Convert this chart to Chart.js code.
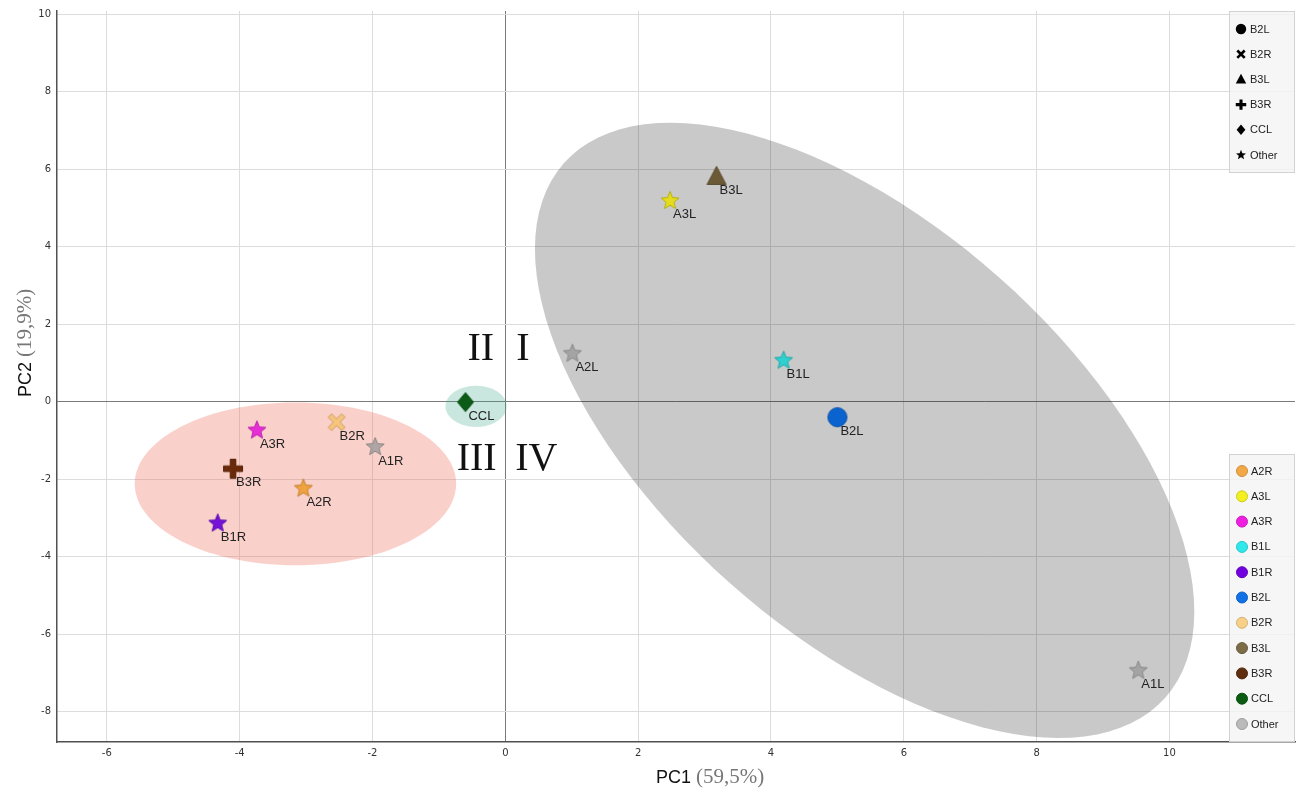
<!DOCTYPE html>
<html>
<head>
<meta charset="utf-8">
<script src="https://cdn.jsdelivr.net/npm/chart.js@4/dist/chart.umd.min.js"></script>
<style>
  html, body { margin: 0; padding: 0; background: #fff; overflow: hidden; }
  canvas { display: block; }
</style>
</head>
<body>
<canvas id="pca" width="1306" height="791"></canvas>
<script>
// samples
const sampleNames = ['A1L', 'A2L', 'A3L', 'B1L', 'B2L', 'B3L', 'CCL', 'A1R', 'A2R', 'A3R', 'B1R', 'B2R', 'B3R']
const pc1 = [9.53, 1.01, 2.48, 4.19, 5.00, 3.18, -0.60, -1.96, -3.04, -3.74, -4.33, -2.54, -4.10]
const pc2 = [-6.94, 1.24, 5.18, 1.06, -0.40, 5.80, -0.01, -1.17, -2.24, -0.74, -3.14, -0.53, -1.73]
const sampleGroup = ['Other', 'Other', 'A3L', 'B1L', 'B2L', 'B3L', 'CCL', 'Other', 'A2R', 'A3R', 'B1R', 'B2R', 'B3R']

// colour legend
const groupNames = ['A2R', 'A3L', 'A3R', 'B1L', 'B1R', 'B2L', 'B2R', 'B3L', 'B3R', 'CCL', 'Other']
const groupColors = ['#f0a23e', '#e4dc1c', '#e82ed6', '#2ed0d0', '#7412d8', '#0b63d0', '#f7c47c', '#6b5a35', '#6a2a0a', '#0b5a16', '#9a9a9a']
const legendColors = ['#f2a846', '#f2f01e', '#f01ee0', '#2ee8ea', '#7000e0', '#1072e6', '#f8d088', '#7c6c48', '#5e2e0e', '#0a5a12', '#bababa']

// shape legend
const shapeNames = ['B2L', 'B2R', 'B3L', 'B3R', 'CCL', 'Other']
const shapeKinds = ['circle', 'cross', 'triangle', 'plus', 'diamond', 'star']

// ticks
const xTicks = [-6, -4, -2, 0, 2, 4, 6, 8, 10]
const yTicks = [-8, -6, -4, -2, 0, 2, 4, 6, 8, 10]

// confidence ellipses: centre, two half-axis vectors (data units)
const ellipseGray = [5.41, -0.74, 4.53, -6.89, -2.03, -3.94]
const ellipsePink = [-3.16, -2.12, 2.42, 0, 0, 2.10]
const ellipseTeal = [-0.44, -0.12, 0.46, 0, 0, 0.53]

// quadrant numerals
const quadText = ['II', 'I', 'III', 'IV']
const quadX = [-0.17, 0.165, -0.13, 0.15]
const quadY = [1.08, 1.08, -1.75, -1.75]

function darker(hex, f) {
  const n = parseInt(hex.slice(1), 16)
  const r = Math.round(((n >> 16) & 255) * f), g = Math.round(((n >> 8) & 255) * f), b = Math.round((n & 255) * f)
  return 'rgb(' + r + ',' + g + ',' + b + ')'
}

function shapePath(g, kind, k) {
  g.beginPath()
  if (kind === 'circle') {
    g.arc(0, 0, 9.5 * k, 0, Math.PI * 2)
  } else if (kind === 'triangle') {
    g.moveTo(0, -10.5 * k); g.lineTo(9.5 * k, 7.5 * k); g.lineTo(-9.5 * k, 7.5 * k)
  } else if (kind === 'diamond') {
    g.moveTo(0, -9.5 * k); g.lineTo(8 * k, 0); g.lineTo(0, 9.5 * k); g.lineTo(-8 * k, 0)
  } else if (kind === 'star') {
    for (let i = 0; i < 10; i++) {
      const r = (i % 2 ? 4.2 : 9.5) * k
      const a = -Math.PI / 2 + i * Math.PI / 5
      g.lineTo(Math.cos(a) * r, Math.sin(a) * r)
    }
  } else {
    const L = 9.5 * k, t = (kind === 'plus' ? 2.8 : 2.4) * k
    const pts = [[-t, -L], [t, -L], [t, -t], [L, -t], [L, t], [t, t], [t, L], [-t, L], [-t, t], [-L, t], [-L, -t], [-t, -t]]
    const rot = kind === 'cross' ? Math.PI / 4 : 0
    pts.forEach(p => {
      const x = p[0] * Math.cos(rot) - p[1] * Math.sin(rot)
      const y = p[0] * Math.sin(rot) + p[1] * Math.cos(rot)
      g.lineTo(x, y)
    })
  }
  g.closePath()
}

function makeMarker(kind, fill, alpha) {
  const c = document.createElement('canvas')
  c.width = 26; c.height = 26
  const g = c.getContext('2d')
  g.translate(13, 13)
  g.globalAlpha = alpha
  shapePath(g, kind, 1)
  g.fillStyle = fill
  g.fill()
  g.lineWidth = 1
  g.strokeStyle = darker(fill, 0.8)
  g.stroke()
  return c
}

const pointStyles = sampleNames.map((n, i) => {
  const grp = sampleGroup[i]
  const si = shapeNames.indexOf(grp)
  const kind = si >= 0 ? shapeKinds[si] : 'star'
  const col = groupColors[groupNames.indexOf(grp)]
  return makeMarker(kind, col, grp === 'Other' ? 0.78 : 1)
})

function drawEllipse(chart, e, fill) {
  const xs = chart.scales.x, ys = chart.scales.y, g = chart.ctx
  g.save()
  g.beginPath()
  for (let i = 0; i <= 120; i++) {
    const t = i / 120 * Math.PI * 2
    const vx = e[0] + e[2] * Math.cos(t) + e[4] * Math.sin(t)
    const vy = e[1] + e[3] * Math.cos(t) + e[5] * Math.sin(t)
    g.lineTo(xs.getPixelForValue(vx), ys.getPixelForValue(vy))
  }
  g.closePath()
  g.fillStyle = fill
  g.fill()
  g.restore()
}

const extras = {
  id: 'extras',
  beforeDatasetsDraw(chart) {
    drawEllipse(chart, ellipseGray, 'rgba(0,0,0,0.21)')
    drawEllipse(chart, ellipsePink, 'rgba(240,110,90,0.32)')
    drawEllipse(chart, ellipseTeal, 'rgba(60,170,140,0.28)')
  },
  afterDatasetsDraw(chart) {
    const g = chart.ctx
    const meta = chart.getDatasetMeta(0)
    g.save()
    g.font = '13px "Liberation Sans"'
    g.fillStyle = '#222'
    g.textBaseline = 'middle'
    g.textAlign = 'left'
    meta.data.forEach((el, i) => g.fillText(sampleNames[i], el.x + 3, el.y + 14))
    // numerals
    const xs = chart.scales.x, ys = chart.scales.y
    g.font = '40px "Liberation Serif"'
    g.fillStyle = '#111'
    g.textBaseline = 'alphabetic'
    quadText.forEach((t, i) => {
      g.textAlign = i % 2 === 0 ? 'right' : 'left'
      g.fillText(t, xs.getPixelForValue(quadX[i]), ys.getPixelForValue(quadY[i]))
    })
    g.restore()
  },
  afterDraw(chart) {
    const g = chart.ctx
    const a = chart.chartArea
    g.save()
    // shape legend
    const bx = a.right - 66, bw = 66
    g.fillStyle = 'rgba(244,244,244,0.82)'
    g.strokeStyle = '#d2d2d2'
    g.lineWidth = 1
    g.fillRect(bx, a.top, bw, 162)
    g.strokeRect(bx + 0.5, a.top + 0.5, bw - 1, 161)
    g.font = '11px "Liberation Sans"'
    g.textBaseline = 'middle'
    g.textAlign = 'left'
    shapeNames.forEach((n, i) => {
      const y = a.top + 18 + i * 25.2
      g.save()
      g.translate(bx + 12, y)
      shapePath(g, shapeKinds[i], 0.55)
      g.fillStyle = '#000'
      g.fill()
      g.restore()
      g.fillStyle = '#222'
      g.fillText(n, bx + 21, y + 0.5)
    })
    // colour legend
    const by = a.bottom - 288
    g.fillStyle = 'rgba(244,244,244,0.82)'
    g.fillRect(bx, by, bw, 288)
    g.strokeStyle = '#d2d2d2'
    g.strokeRect(bx + 0.5, by + 0.5, bw - 1, 287)
    groupNames.forEach((n, i) => {
      const y = by + 17 + i * 25.3
      g.beginPath()
      g.arc(bx + 13, y, 5.5, 0, Math.PI * 2)
      g.fillStyle = legendColors[i]
      g.fill()
      g.strokeStyle = darker(legendColors[i], 0.85)
      g.stroke()
      g.fillStyle = '#222'
      g.fillText(n, bx + 22, y + 0.5)
    })
    // axis titles
    const cx = (a.left + a.right) / 2 + 34
    g.textBaseline = 'alphabetic'
    g.font = '18px "Liberation Sans"'
    const w1 = g.measureText('PC1 ').width
    g.font = '21px "Liberation Serif"'
    const w2 = g.measureText('(59,5%)').width
    let x0 = cx - (w1 + w2) / 2
    g.fillStyle = '#111'
    g.font = '18px "Liberation Sans"'
    g.fillText('PC1 ', x0, 783)
    g.fillStyle = '#777'
    g.font = '21px "Liberation Serif"'
    g.fillText('(59,5%)', x0 + w1, 783)

    g.translate(31, 343)
    g.rotate(-Math.PI / 2)
    g.font = '18px "Liberation Sans"'
    const v1 = g.measureText('PC2 ').width
    g.font = '21px "Liberation Serif"'
    const v2 = g.measureText('(19,9%)').width
    x0 = -(v1 + v2) / 2
    g.fillStyle = '#111'
    g.font = '18px "Liberation Sans"'
    g.fillText('PC2 ', x0, 0)
    g.fillStyle = '#777'
    g.font = '21px "Liberation Serif"'
    g.fillText('(19,9%)', x0 + v1, 0)
    g.restore()
  }
}

const points = pc1.map((v, i) => ({ x: v, y: pc2[i] }))

new Chart(document.getElementById('pca'), {
  type: 'scatter',
  data: {
    datasets: [{
      data: points,
      pointStyle: pointStyles,
      pointRadius: 10,
      pointHoverRadius: 10
    }]
  },
  options: {
    responsive: false,
    animation: false,
    devicePixelRatio: 1,
    layout: { padding: { top: 10, right: 6, left: 0, bottom: 0 } },
    plugins: { legend: { display: false }, tooltip: { enabled: false } },
    scales: {
      x: {
        type: 'linear',
        min: -6.75,
        max: 11.89,
        afterBuildTicks: s => { s.ticks = xTicks.map(v => ({ value: v })) },
        afterFit: s => { s.height = 49; s.paddingLeft = 0; s.paddingRight = 0 },
        grid: {
          color: c => c.tick && c.tick.value === 0 ? '#7a7a7a' : '#dcdcdc',
          drawTicks: false
        },
        border: { color: '#505050', width: 1.5 },
        ticks: { font: { family: 'DejaVu Sans', size: 10 }, color: '#333', padding: 5 }
      },
      y: {
        type: 'linear',
        min: -8.78,
        max: 10.08,
        afterBuildTicks: s => { s.ticks = yTicks.map(v => ({ value: v })) },
        afterFit: s => { s.width = 57; s.paddingTop = 0; s.paddingBottom = 0 },
        grid: {
          color: c => c.tick && c.tick.value === 0 ? '#7a7a7a' : '#dcdcdc',
          drawTicks: false
        },
        border: { color: '#505050', width: 1.5 },
        ticks: { font: { family: 'DejaVu Sans', size: 10 }, color: '#333', padding: 6 }
      }
    }
  },
  plugins: [extras]
})
</script>
</body>
</html>
